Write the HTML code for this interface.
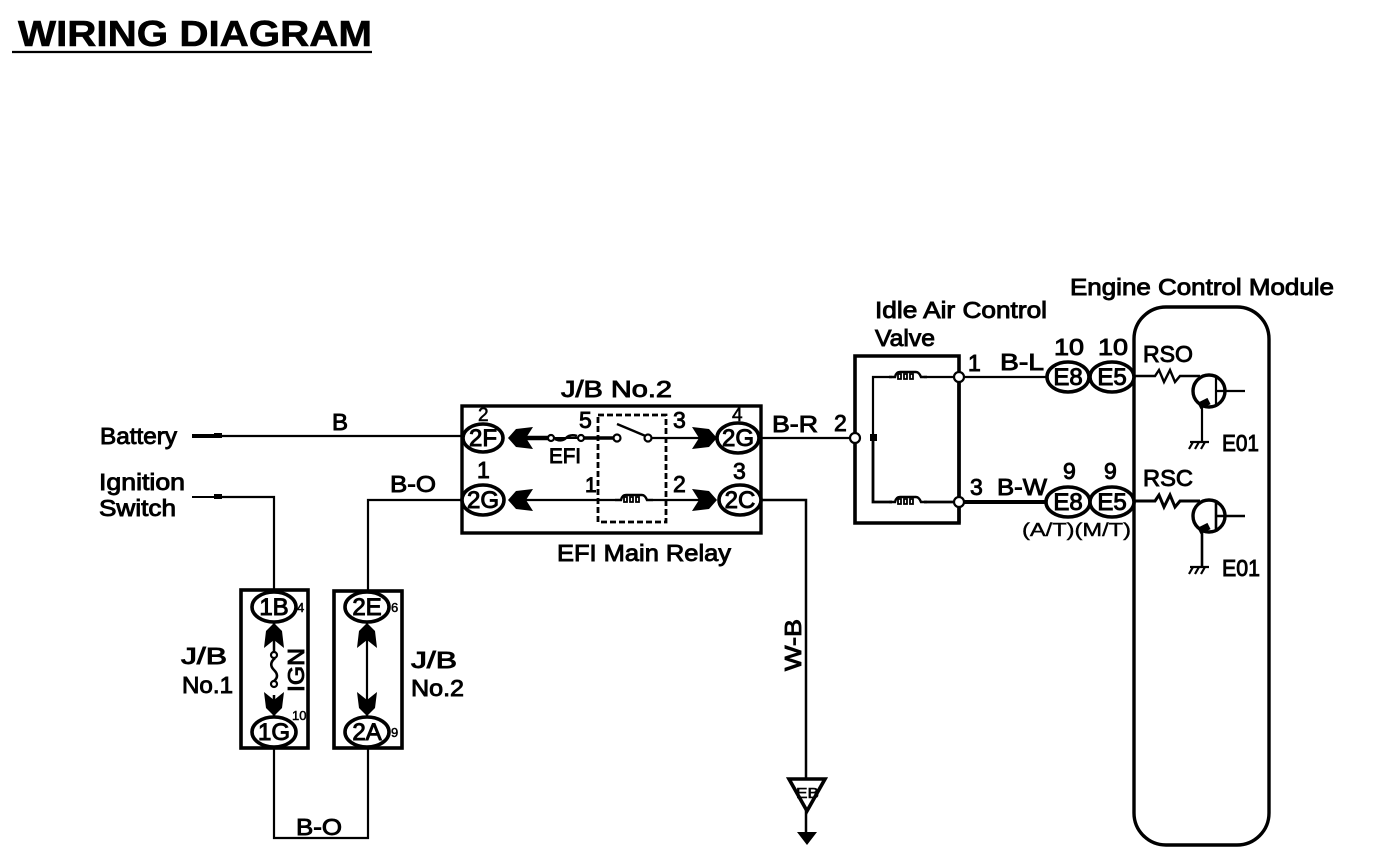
<!DOCTYPE html>
<html><head><meta charset="utf-8"><style>
html,body{margin:0;padding:0;background:#fff;width:1376px;height:858px;overflow:hidden}
svg{display:block}
text{font-family:"Liberation Sans",sans-serif;fill:#000;stroke:#000;stroke-width:.9px;font-size:23px}
.s{font-size:13px;stroke-width:.5px}
.c{text-anchor:middle;font-size:24px;stroke-width:1px}
</style></head><body>
<svg width="1376" height="858" viewBox="0 0 1376 858" xmlns="http://www.w3.org/2000/svg">
<defs>
<path id="al" d="M0 0L8 -9L25 -11L18 0L25 11L8 9Z"/>
<path id="ar" d="M0 0L-8 -9L-25 -11L-18 0L-25 11L-8 9Z"/>
<path id="coil" d="M0 0H6Q7 -5 11 -5H27Q30 -5 32 0H38" fill="none" stroke="#000" stroke-width="2.4"/>
<g id="gnd" stroke="#000" stroke-width="2.2" fill="none"><path d="M-6 0H13M-3 0L-7 7M3 0L-1 7M9 0L5 7"/></g>
</defs>
<g fill="none" stroke="#000" stroke-width="2.2">
<path d="M12 52H372"/>
<path d="M192 436H216" stroke-width="4"/><path d="M216 436H462"/>
<path d="M192 497H216" stroke-width="2"/><path d="M216 497H274V590"/>
<path d="M368 590V500H462"/>
<path d="M274 748V838H368V748"/>
<path d="M274 620V655M274 695V720" stroke-width="2.5"/>
<path d="M367 620V720"/>
<path d="M762 438H855"/>
<path d="M762 500H806V835" stroke-width="2.5"/>
<rect x="462" y="406" width="299" height="127" stroke-width="3.4"/>
<rect x="241" y="590" width="67" height="158" stroke-width="3.6"/>
<rect x="334" y="591" width="68" height="157" stroke-width="3.6"/>
<rect x="598" y="415" width="68" height="107" stroke-width="2.8" stroke-dasharray="6 3"/>
<path d="M525 438H551" stroke-width="4.5"/>
<path d="M551 438H581" stroke-width="2"/>
<path d="M555 439Q562 442 566 438T577 436" stroke-width="2.6"/>
<path d="M581 438H617" stroke-width="3.5"/>
<path d="M617 424L648 437" stroke-width="2.4"/>
<path d="M648 438H700"/>
<path d="M525 500H615M653 500H700"/>
<path d="M959 356H855V523H959Z" stroke-width="3.6"/>
<path d="M873 438V377H892M924 377H959"/>
<path d="M873 438V502H892M924 502H959" stroke-width="2.8"/>
<path d="M959 377V523" stroke-width="3.4"/>
<path d="M959 377H1046"/>
<path d="M959 502H1046" stroke-width="4"/>
<rect x="1134" y="307" width="135" height="538" rx="32" ry="32" stroke-width="3.4"/>
<path d="M1134 376H1155L1159 370L1164 382L1170 370L1175 382L1180 376H1200" stroke-width="2.4"/>
<path d="M1134 501H1155L1159 495L1164 507L1170 495L1175 507L1180 501H1200" stroke-width="3"/>
<circle cx="1209" cy="391" r="16" stroke-width="3.4"/>
<circle cx="1209" cy="516" r="16" stroke-width="3.4"/>
<path d="M1216 375V407M1216 391H1245M1202 404V442"/>
<path d="M1216 500V532M1216 516H1245M1202 529V567" stroke-width="2.6"/>
<path d="M1209 401L1199 406" stroke-width="7"/>
<path d="M1209 526L1199 531" stroke-width="7"/>
<g fill="#fff" stroke-width="3.6">
<ellipse cx="483" cy="438" rx="20" ry="14"/><ellipse cx="483" cy="500" rx="21" ry="15"/>
<ellipse cx="738" cy="438" rx="21" ry="15"/><ellipse cx="740" cy="500" rx="21" ry="15"/>
<ellipse cx="274" cy="607" rx="22" ry="15"/><ellipse cx="274" cy="732" rx="22" ry="15"/>
<ellipse cx="367" cy="607" rx="22" ry="15"/><ellipse cx="367" cy="732" rx="22" ry="15"/>
<ellipse cx="1068" cy="377" rx="21" ry="15"/><ellipse cx="1112" cy="377" rx="22" ry="15"/>
<ellipse cx="1068" cy="502" rx="22" ry="15"/><ellipse cx="1112" cy="502" rx="22" ry="15"/>
</g>
<g fill="#fff" stroke-width="2.2">
<circle cx="551" cy="438" r="3"/><circle cx="581" cy="438" r="3"/><circle cx="617" cy="438" r="3.5"/><circle cx="648" cy="438" r="3.5"/>
<circle cx="855" cy="438" r="5"/><circle cx="959" cy="377" r="5"/><circle cx="959" cy="502" r="5"/>
<circle cx="274" cy="655" r="3"/><circle cx="274" cy="684" r="3"/>
</g>
<path d="M275 658Q268 664 274 670T274 681" stroke-width="2.6"/>
<path d="M789 779H825L807 811Z" fill="#fff" stroke-width="3.6"/>
</g>
<g fill="#000">
<rect x="214" y="433" width="8" height="5"/><rect x="214" y="494" width="8" height="5"/>
<rect x="870" y="434" width="7" height="7"/>
<use href="#al" x="508" y="438"/><use href="#al" x="508" y="500"/>
<use href="#ar" x="717" y="438"/><use href="#ar" x="717" y="500"/>
<path d="M274 623L266 631L264 648L274 640L284 648L282 631Z"/>
<path d="M367 623L359 631L357 648L367 640L377 648L375 631Z"/>
<path d="M274 716L266 708L264 692L274 700L284 692L282 708Z"/>
<path d="M367 716L359 708L357 692L367 700L377 692L375 708Z"/>
<path d="M797 832H817L807 845Z"/>
</g>
<use href="#coil" x="615" y="500"/>
<use href="#coil" x="889" y="377"/>
<use href="#coil" x="889" y="502"/>
<g fill="none" stroke="#000" stroke-width="1.8">
<path d="M624 497h3v5h-3zM630 497h3v5h-3zM636 497h3v5h-3z"/>
<path d="M898 374h3v5h-3zM904 374h3v5h-3zM910 374h3v5h-3z"/>
<path d="M898 499h3v5h-3zM904 499h3v5h-3zM910 499h3v5h-3z"/>
</g>
<use href="#gnd" x="1196" y="442"/><use href="#gnd" x="1196" y="567"/>

<text x="18" y="46" textLength="354" lengthAdjust="spacingAndGlyphs" style="font-size:36px;font-weight:bold;stroke-width:.6px">WIRING DIAGRAM</text>
<text x="100" y="444" textLength="77" lengthAdjust="spacingAndGlyphs">Battery</text>
<text x="99" y="490" textLength="86" lengthAdjust="spacingAndGlyphs">Ignition</text>
<text x="99" y="516" textLength="77" lengthAdjust="spacingAndGlyphs">Switch</text>
<text x="332" y="430" textLength="16" lengthAdjust="spacingAndGlyphs">B</text>
<text x="390" y="492" textLength="46" lengthAdjust="spacingAndGlyphs">B-O</text>
<text x="561" y="397" textLength="111" lengthAdjust="spacingAndGlyphs">J/B No.2</text>
<text x="557" y="561" textLength="174" lengthAdjust="spacingAndGlyphs">EFI Main Relay</text>
<text x="549" y="463" textLength="32" lengthAdjust="spacingAndGlyphs" style="font-size:21px">EFI</text>
<text x="579" y="428">5</text>
<text x="673" y="428">3</text>
<text x="585" y="492" style="font-size:21px">1</text>
<text x="673" y="492">2</text>
<text x="772" y="432" textLength="46" lengthAdjust="spacingAndGlyphs">B-R</text>
<text x="834" y="431">2</text>
<text x="478" y="421" style="font-size:19px;stroke-width:.6px">2</text>
<text x="477" y="478">1</text>
<text x="732" y="421" style="font-size:19px;stroke-width:.6px">4</text>
<text x="733" y="479">3</text>
<text class="c" x="483" y="446">2F</text>
<text class="c" x="483" y="508">2G</text>
<text class="c" x="738" y="446">2G</text>
<text class="c" x="740" y="508">2C</text>
<text class="c" x="274" y="615">1B</text>
<text class="c" x="274" y="740">1G</text>
<text class="c" x="367" y="615">2E</text>
<text class="c" x="367" y="740">2A</text>
<text x="297" y="612" class="s">4</text>
<text x="292" y="720" class="s">10</text>
<text x="391" y="612" class="s">6</text>
<text x="391" y="737" class="s">9</text>
<text x="181" y="664" textLength="46" lengthAdjust="spacingAndGlyphs">J/B</text>
<text x="182" y="693" textLength="51" lengthAdjust="spacingAndGlyphs">No.1</text>
<text x="411" y="668" textLength="46" lengthAdjust="spacingAndGlyphs">J/B</text>
<text x="411" y="696" textLength="53" lengthAdjust="spacingAndGlyphs">No.2</text>
<text x="296" y="835" textLength="46" lengthAdjust="spacingAndGlyphs">B-O</text>
<text transform="translate(304,692) rotate(-90)" textLength="44" lengthAdjust="spacingAndGlyphs">IGN</text>
<text transform="translate(801,671) rotate(-90)" textLength="52" lengthAdjust="spacingAndGlyphs">W-B</text>
<text x="796" y="798" style="font-size:15px;stroke-width:.6px" textLength="23" lengthAdjust="spacingAndGlyphs">EB</text>
<text x="875" y="318" textLength="172" lengthAdjust="spacingAndGlyphs">Idle Air Control</text>
<text x="875" y="346" textLength="60" lengthAdjust="spacingAndGlyphs">Valve</text>
<text x="1070" y="295" textLength="264" lengthAdjust="spacingAndGlyphs">Engine Control Module</text>
<text x="968" y="371">1</text>
<text x="1000" y="370" textLength="44" lengthAdjust="spacingAndGlyphs">B-L</text>
<text x="970" y="495">3</text>
<text x="997" y="495" textLength="50" lengthAdjust="spacingAndGlyphs">B-W</text>
<text x="1054" y="355" textLength="30" lengthAdjust="spacingAndGlyphs">10</text>
<text x="1098" y="355" textLength="30" lengthAdjust="spacingAndGlyphs">10</text>
<text x="1063" y="479">9</text>
<text x="1104" y="479">9</text>
<text class="c" x="1068" y="385">E8</text>
<text class="c" x="1112" y="385">E5</text>
<text class="c" x="1068" y="510">E8</text>
<text class="c" x="1112" y="510">E5</text>
<text x="1022" y="536" textLength="109" lengthAdjust="spacingAndGlyphs" style="font-size:18px;stroke-width:.4px">(A/T)(M/T)</text>
<text x="1143" y="362" textLength="50" lengthAdjust="spacingAndGlyphs">RSO</text>
<text x="1143" y="486" textLength="50" lengthAdjust="spacingAndGlyphs">RSC</text>
<text x="1222" y="451" textLength="37" lengthAdjust="spacingAndGlyphs">E01</text>
<text x="1222" y="576" textLength="38" lengthAdjust="spacingAndGlyphs">E01</text>
</svg>
</body></html>
